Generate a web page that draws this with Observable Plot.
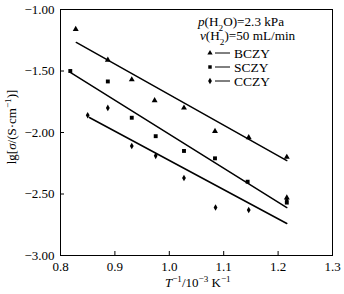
<!DOCTYPE html>
<html><head><meta charset="utf-8">
<script src="https://cdn.jsdelivr.net/npm/d3@7"></script>
<script src="https://cdn.jsdelivr.net/npm/@observablehq/plot@0.6"></script>
<style>body{margin:0;background:#fff}</style>
</head><body><div id="chart"></div>
<script>
// Measured points: x = T^-1 / 10^-3 K^-1, y = lg[σ/(S·cm^-1)]
const bczyX = [0.828, 0.887, 0.931, 0.973, 1.027, 1.084, 1.146, 1.216, 1.216];
const bczyY = [-1.16, -1.41, -1.57, -1.74, -1.80, -1.99, -2.04, -2.20, -2.53];
const sczyX = [0.818, 0.887, 0.931, 0.975, 1.027, 1.084, 1.144, 1.216];
const sczyY = [-1.50, -1.585, -1.88, -2.03, -2.15, -2.21, -2.40, -2.57];
const cczyX = [0.850, 0.887, 0.931, 0.975, 1.027, 1.085, 1.146, 1.216];
const cczyY = [-1.86, -1.80, -2.11, -2.19, -2.37, -2.61, -2.63, -2.55];
// Fitted lines (end points as drawn)
const bczyFitX = [0.829, 1.216], bczyFitY = [-1.268, -2.228];
const sczyFitX = [0.818, 1.216], sczyFitY = [-1.512, -2.61];
const cczyFitX = [0.853, 1.216], cczyFitY = [-1.878, -2.74];
// Axes
const xTicks = [0.8, 0.9, 1.0, 1.1, 1.2, 1.3];
const yTicks = [-3.0, -2.5, -2.0, -1.5, -1.0];
const seriesNames = ["BCZY", "SCZY", "CCZY"];
const seriesSymbols = ["triangle", "square", "diamond"];

const pts = (xs, ys) => xs.map((x, i) => ({x, y: ys[i]}));
const font = "'Liberation Serif', 'Times New Roman', serif";

const chart = Plot.plot({
  width: 344, height: 294,
  marginLeft: 60, marginRight: 12, marginTop: 9, marginBottom: 39,
  style: {fontFamily: font, fontSize: "13px", color: "black", background: "white"},
  x: {domain: [0.8, 1.3]},
  y: {domain: [-3, -1]},
  marks: [
    Plot.frame({stroke: "black", strokeWidth: 1}),
    Plot.axisX({ticks: xTicks, tickSize: -4, tickPadding: 10, tickFormat: d3.format(".1f"), label: null, fontSize: 13}),
    Plot.axisY({ticks: yTicks, tickSize: -4, tickPadding: 10, tickFormat: d3.format(".2f"), label: null, fontSize: 13}),
    Plot.line(pts(bczyFitX, bczyFitY), {x: "x", y: "y", stroke: "black", strokeWidth: 1.5}),
    Plot.line(pts(sczyFitX, sczyFitY), {x: "x", y: "y", stroke: "black", strokeWidth: 1.5}),
    Plot.line(pts(cczyFitX, cczyFitY), {x: "x", y: "y", stroke: "black", strokeWidth: 1.5}),
    Plot.dot(pts(bczyX, bczyY), {x: "x", y: "y", symbol: seriesSymbols[0], fill: "black", r: 2.2}),
    Plot.dot(pts(sczyX, sczyY), {x: "x", y: "y", symbol: seriesSymbols[1], fill: "black", r: 2.2}),
    Plot.dot(pts(cczyX, cczyY), {x: "x", y: "y", symbol: seriesSymbols[2], fill: "black", r: 2.0})
  ]
});
document.getElementById("chart").appendChild(chart);

const svg = d3.select(chart);
function rich(g, x, y, parts, opts = {}) {
  const t = g.append("text").attr("x", x).attr("y", y)
    .attr("font-family", font).attr("font-size", opts.size || 13).attr("fill", "black")
    .attr("text-anchor", opts.anchor || "start");
  if (opts.transform) t.attr("transform", opts.transform);
  for (const p of parts) {
    const s = t.append("tspan").text(p.t);
    if (p.i) s.attr("font-style", "italic");
    if (p.sup) s.attr("baseline-shift", "super").attr("font-size", (opts.size || 13) * 0.7);
    if (p.sub) s.attr("baseline-shift", "sub").attr("font-size", (opts.size || 13) * 0.7);
  }
  return t;
}
const g = svg.append("g");
// x axis label
rich(g, 165, 287, [{t: "T", i: 1}, {t: "−1", sup: 1}, {t: "/10"}, {t: "−3", sup: 1}, {t: " K"}, {t: "−1", sup: 1}], {size: 13});
// y axis label
rich(g, 0, 0, [{t: "lg["}, {t: "σ", i: 1}, {t: "/(S·cm"}, {t: "−1", sup: 1}, {t: ")]"}],
  {size: 13, anchor: "middle", transform: "translate(16,127) rotate(-90)"});
// legend
rich(g, 198, 26, [{t: "p", i: 1}, {t: "(H"}, {t: "2", sub: 1}, {t: "O)=2.3 kPa"}], {size: 13.2});
rich(g, 200, 40, [{t: "v", i: 1}, {t: "(H"}, {t: "2", sub: 1}, {t: ")=50 mL/min"}], {size: 13.2});
const symMap = {triangle: d3.symbolTriangle, square: d3.symbolSquare, diamond: d3.symbolDiamond};
seriesNames.forEach((name, i) => {
  const cy = 53 + i * 14;
  g.append("path").attr("d", d3.symbol(symMap[seriesSymbols[i]], 12)())
    .attr("transform", `translate(210,${cy})`).attr("fill", "black");
  g.append("line").attr("x1", 215).attr("x2", 230).attr("y1", cy).attr("y2", cy)
    .attr("stroke", "black").attr("stroke-width", 1);
  rich(g, 234, cy + 4.5, [{t: name}], {size: 13.5});
});
</script></body></html>
